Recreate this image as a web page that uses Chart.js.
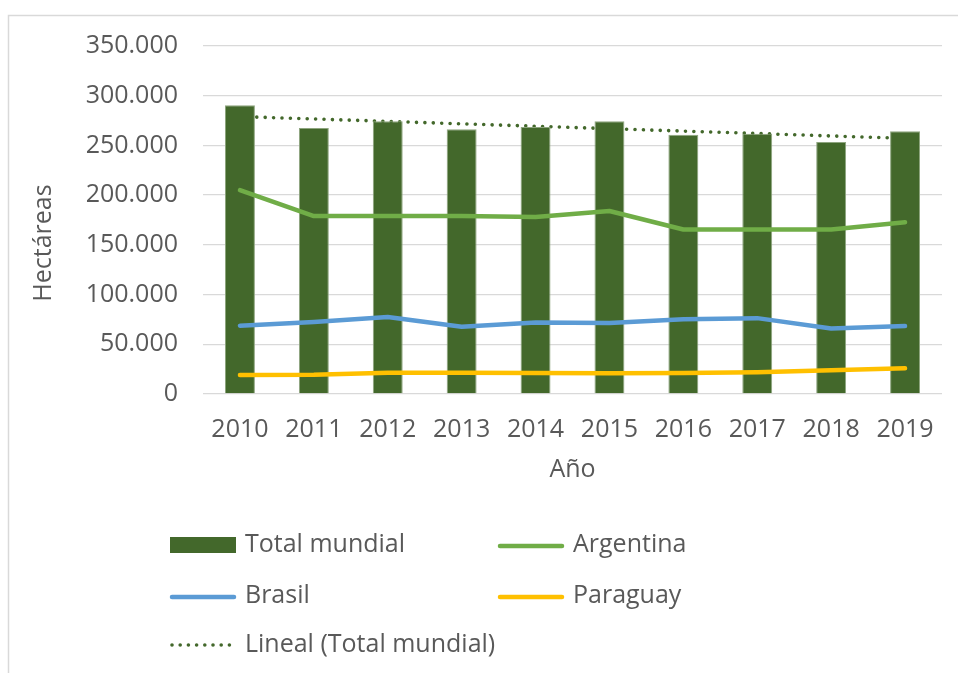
<!DOCTYPE html>
<html>
<head>
<meta charset="utf-8">
<script src="https://cdn.jsdelivr.net/npm/chart.js@4.4.1/dist/chart.umd.min.js"></script>
<style>
  html, body { margin: 0; padding: 0; background: #fff; }
  #wrap { width: 958px; height: 673px; }
</style>
</head>
<body>
<div id="wrap"><canvas id="myChart" width="958" height="673"></canvas></div>
<script>
// Chart data
const years = ['2010', '2011', '2012', '2013', '2014', '2015', '2016', '2017', '2018', '2019'];
const totalMundial = [290400, 267500, 274300, 266200, 268500, 274300, 260800, 261800, 253400, 264200];
const argentina = [205000, 179000, 179000, 179000, 178000, 184000, 165500, 165500, 165500, 172700];
const brasil = [68700, 72500, 77500, 67700, 72000, 71500, 75200, 76300, 65800, 68300];
const paraguay = [19000, 19300, 21300, 21300, 21000, 20800, 21000, 21800, 24000, 25800];
const linealTotal = [279000, 276600, 274200, 271700, 269300, 266800, 264400, 262000, 259500, 257100];
const yTicks = [0, 50000, 100000, 150000, 200000, 250000, 300000, 350000];

const textColor = '#595959';
const fontFamily = '"Open Sans", "DejaVu Sans", sans-serif';
const fontSize = 25;

const colors = {
  total: '#43682B',
  argentina: '#70AD47',
  brasil: '#5B9BD5',
  paraguay: '#FFC000'
};

function formatNum(v) {
  return String(v).replace(/\B(?=(\d{3})+(?!\d))/g, '.');
}

// frame around the chart, like the Excel chart border
const framePlugin = {
  id: 'frame',
  beforeDraw(chart) {
    const c = chart.ctx;
    c.save();
    c.fillStyle = '#fff';
    c.fillRect(0, 0, chart.width, chart.height);
    c.strokeStyle = '#D9D9D9';
    c.lineWidth = 1.5;
    c.beginPath();
    c.moveTo(8.5, chart.height);
    c.lineTo(8.5, 15.5);
    c.lineTo(chart.width, 15.5);
    c.stroke();
    c.restore();
  }
};

// y axis title sits a bit lower than the middle of the plot in the original
const yTitlePlugin = {
  id: 'yTitle',
  afterDraw(chart) {
    const c = chart.ctx;
    c.save();
    c.translate(44, 243);
    c.rotate(-Math.PI / 2);
    c.fillStyle = textColor;
    c.font = fontSize + 'px ' + fontFamily;
    c.textAlign = 'center';
    c.textBaseline = 'middle';
    c.fillText('Hectáreas', 0, 0);
    c.restore();
  }
};

// two-column legend drawn under the chart
const legendPlugin = {
  id: 'customLegend',
  afterDraw(chart) {
    const c = chart.ctx;
    const items = [
      { text: 'Total mundial', type: 'box', color: colors.total, x: 170, y: 545 },
      { text: 'Argentina', type: 'line', color: colors.argentina, x: 498, y: 545 },
      { text: 'Brasil', type: 'line', color: colors.brasil, x: 170, y: 596 },
      { text: 'Paraguay', type: 'line', color: colors.paraguay, x: 498, y: 596 },
      { text: 'Lineal (Total mundial)', type: 'dots', color: colors.total, x: 170, y: 645 }
    ];
    c.save();
    items.forEach(it => {
      if (it.type === 'box') {
        c.fillStyle = it.color;
        c.fillRect(it.x, it.y - 8, 66, 16);
      } else if (it.type === 'line') {
        c.strokeStyle = it.color;
        c.lineWidth = 4.5;
        c.lineCap = 'round';
        c.beginPath();
        c.moveTo(it.x + 2, it.y + 1);
        c.lineTo(it.x + 64, it.y + 1);
        c.stroke();
      } else {
        c.fillStyle = it.color;
        for (let i = 0; i < 8; i++) {
          c.beginPath();
          c.arc(it.x + 2 + i * 8.2, it.y, 1.8, 0, Math.PI * 2);
          c.fill();
        }
      }
      c.fillStyle = textColor;
      c.font = fontSize + 'px ' + fontFamily;
      c.textBaseline = 'middle';
      c.textAlign = 'left';
      c.fillText(it.text, it.x + 75, it.y);
    });
    c.restore();
  }
};

const ctx = document.getElementById('myChart').getContext('2d');

const myChart = new Chart(ctx, {
  type: 'bar',
  data: {
    labels: years,
    datasets: [
      {
        type: 'line',
        label: 'Argentina',
        data: argentina,
        borderColor: colors.argentina,
        borderWidth: 4.5,
        borderCapStyle: 'round',
        borderJoinStyle: 'round',
        pointRadius: 0,
        tension: 0,
        order: 0
      },
      {
        type: 'line',
        label: 'Brasil',
        data: brasil,
        borderColor: colors.brasil,
        borderWidth: 4.5,
        borderCapStyle: 'round',
        borderJoinStyle: 'round',
        pointRadius: 0,
        tension: 0,
        order: 0
      },
      {
        type: 'line',
        label: 'Paraguay',
        data: paraguay,
        borderColor: colors.paraguay,
        borderWidth: 4.5,
        borderCapStyle: 'round',
        borderJoinStyle: 'round',
        pointRadius: 0,
        tension: 0,
        order: 0
      },
      {
        type: 'bar',
        label: 'Total mundial',
        data: totalMundial,
        backgroundColor: colors.total,
        borderColor: '#8EA57F',
        borderWidth: 1,
        barPercentage: 0.405,
        categoryPercentage: 1,
        order: 1
      },
      {
        type: 'line',
        label: 'Lineal (Total mundial)',
        data: linealTotal,
        borderColor: colors.total,
        borderWidth: 3.6,
        borderDash: [0.01, 8.4],
        borderCapStyle: 'round',
        pointRadius: 0,
        tension: 0,
        order: 2
      }
    ]
  },
  options: {
    responsive: false,
    animation: false,
    layout: {
      padding: { top: 46, right: 16, bottom: 179, left: 0 }
    },
    plugins: {
      legend: { display: false },
      tooltip: { enabled: false }
    },
    scales: {
      x: {
        grid: { display: false, drawTicks: false },
        border: { display: false },
        ticks: {
          color: textColor,
          font: { family: fontFamily, size: fontSize },
          padding: 21,
          maxRotation: 0
        },
        title: {
          display: true,
          text: 'Año',
          color: textColor,
          font: { family: fontFamily, size: fontSize },
          padding: { top: 0, bottom: 9 }
        },
        afterFit: (scale) => { scale.height = 100; }
      },
      y: {
        min: 0,
        max: 350000,
        afterBuildTicks: (scale) => { scale.ticks = yTicks.map(v => ({ value: v })); },
        grid: { color: '#D9D9D9', lineWidth: 1.3, drawTicks: false },
        border: { display: false },
        ticks: {
          color: textColor,
          font: { family: fontFamily, size: fontSize },
          padding: 25,
          callback: (v) => formatNum(v)
        },
        afterFit: (scale) => { scale.width = 203; }
      }
    }
  },
  plugins: [framePlugin, yTitlePlugin, legendPlugin]
});
</script>
</body>
</html>
